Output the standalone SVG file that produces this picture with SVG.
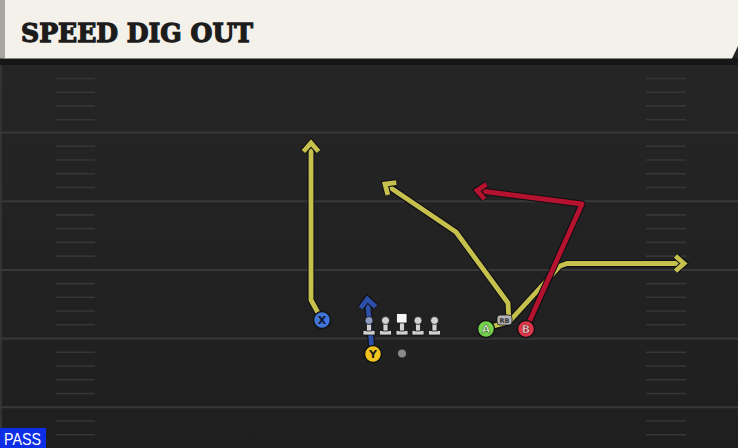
<svg xmlns="http://www.w3.org/2000/svg" width="738" height="448" viewBox="0 0 738 448">
<style>
.yl{stroke:#383838;stroke-width:2}
.hm{stroke:#363636;stroke-width:1.6}
.o{fill:none;stroke:#0f0f14;stroke-width:7;stroke-linejoin:round}
.r{fill:none;stroke-width:4.8;stroke-linejoin:round}
.ry{stroke:#c6c04c}.rr{stroke:#b5122f}.rb{stroke:#2c50aa}
.pc{stroke:#111;stroke-width:1.5}
.lt{font-family:"DejaVu Sans","Liberation Sans",sans-serif;font-weight:bold;font-size:11px;text-anchor:middle}
.ol{fill:#d2d2d2;stroke:#151515;stroke-width:0.8}
</style>
<defs>
<marker id="ay" markerUnits="userSpaceOnUse" markerWidth="26" markerHeight="26" viewBox="-13 -13 26 26" refX="0" refY="0" orient="auto" overflow="visible">
<path d="M-8.5,-7.5 L0,0 L-8.5,7.5" fill="none" stroke="#0f0f14" stroke-width="7" stroke-linejoin="miter"/>
<path d="M-8.5,-7.5 L0,0 L-8.5,7.5" fill="none" stroke="#c6c04c" stroke-width="4.8" stroke-linejoin="miter"/>
</marker>
<marker id="ar" markerUnits="userSpaceOnUse" markerWidth="26" markerHeight="26" viewBox="-13 -13 26 26" refX="0" refY="0" orient="auto" overflow="visible">
<path d="M-8.5,-7.5 L0,0 L-8.5,7.5" fill="none" stroke="#0f0f14" stroke-width="7" stroke-linejoin="miter"/>
<path d="M-8.5,-7.5 L0,0 L-8.5,7.5" fill="none" stroke="#b5122f" stroke-width="4.8" stroke-linejoin="miter"/>
</marker>
<marker id="ab" markerUnits="userSpaceOnUse" markerWidth="26" markerHeight="26" viewBox="-13 -13 26 26" refX="0" refY="0" orient="auto" overflow="visible">
<path d="M-8.5,-7.5 L0,0 L-8.5,7.5" fill="none" stroke="#0f0f14" stroke-width="7" stroke-linejoin="miter"/>
<path d="M-8.5,-7.5 L0,0 L-8.5,7.5" fill="none" stroke="#2c50aa" stroke-width="4.8" stroke-linejoin="miter"/>
</marker>
<linearGradient id="fg" x1="0" y1="0" x2="0" y2="1">
<stop offset="0" stop-color="#262626"/><stop offset="1" stop-color="#1f1f1f"/>
</linearGradient>
</defs>

<!-- field -->
<rect x="0" y="0" width="738" height="448" fill="url(#fg)"/>
<rect x="0" y="64" width="2" height="384" fill="#333"/>
<g id="yardlines">
<line class="yl" x1="0" y1="132.5" x2="738" y2="132.5"/>
<line class="yl" x1="0" y1="201.2" x2="738" y2="201.2"/>
<line class="yl" x1="0" y1="269.9" x2="738" y2="269.9"/>
<line class="yl" x1="0" y1="338.5" x2="738" y2="338.5"/>
<line class="yl" x1="0" y1="407.2" x2="738" y2="407.2"/>
</g>
<g id="hashes">
<path class="hm" d="M56,78.5H95M56,92.2H95M56,105.9H95M56,119.7H95
M56,146.2H95M56,160H95M56,173.7H95M56,187.5H95
M56,214.9H95M56,228.6H95M56,242.4H95M56,256.1H95
M56,283.6H95M56,297.3H95M56,311H95M56,324.8H95
M56,352.2H95M56,366H95M56,379.7H95M56,393.5H95
M56,421H95M56,434.7H95
M646,78.5H686M646,92.2H686M646,105.9H686M646,119.7H686
M646,146.2H686M646,160H686M646,173.7H686M646,187.5H686
M646,214.9H686M646,228.6H686M646,242.4H686M646,256.1H686
M646,283.6H686M646,297.3H686M646,311H686M646,324.8H686
M646,352.2H686M646,366H686M646,379.7H686M646,393.5H686
M646,421H686M646,434.7H686"/>
</g>

<!-- header -->
<g id="header">
<rect x="0" y="58" width="738" height="7" fill="#171717"/>
<polygon points="4,0 738,0 738,46 732,58.5 4,58.5" fill="#f4f1ea"/>
<rect x="0" y="0" width="5" height="58.5" fill="#a9a6a0"/>
<text x="21" y="42" font-family="'DejaVu Serif','Liberation Serif',serif" font-weight="bold" font-size="26" fill="#1c1c1c" stroke="#1c1c1c" stroke-width="1.3" textLength="232" lengthAdjust="spacingAndGlyphs">SPEED DIG OUT</text>
</g>

<!-- connectors -->
<g id="connectors">
<path class="o" d="M322,320 L311,300 L311,143"/>
<path class="r ry" d="M322,320 L311,300 L311,143" marker-end="url(#ay)"/>
<path class="o" d="M486,328 L509,322 L508,303 L456,232 L385,184"/>
<path class="r ry" d="M486,328 L509,322 L508,303 L456,232 L385,184" marker-end="url(#ay)"/>
<path class="o" d="M509,322 L560,266 L567,263.5 L684,263.5"/>
<path class="r ry" d="M509,322 L560,266 L567,263.5 L684,263.5" marker-end="url(#ay)"/>
<path class="o" d="M526,329 L582,204 L477,190.5"/>
<path class="r rr" d="M526,329 L582,204 L477,190.5" marker-end="url(#ar)"/>
<path class="o" d="M372,350 L367.3,299"/>
<path class="r rb" d="M372,350 L367.3,299" marker-end="url(#ab)"/>
</g>

<!-- line -->
<g id="lt">
<rect class="ol" x="363" y="330.5" width="12" height="4.5"/>
<rect class="ol" x="366.5" y="321" width="5" height="10"/>
<circle cx="369" cy="320.5" r="4" fill="#8d9bc4" stroke="#151515" stroke-width="0.8"/>
</g>
<g id="lg">
<rect class="ol" x="379.5" y="330.5" width="12" height="4.5"/>
<rect class="ol" x="383" y="321" width="5" height="10"/>
<circle class="ol" cx="385.5" cy="320.5" r="4"/>
</g>
<g id="c">
<rect class="ol" x="396" y="330.5" width="12" height="4.5"/>
<rect class="ol" x="399.5" y="322" width="5" height="9"/>
<rect x="396.5" y="313.5" width="10.5" height="9.5" fill="#f6f6f6" stroke="#151515" stroke-width="0.8"/>
</g>
<g id="rg">
<rect class="ol" x="412" y="330.5" width="12" height="4.5"/>
<rect class="ol" x="415.5" y="321" width="5" height="10"/>
<circle class="ol" cx="418" cy="320.5" r="4"/>
</g>
<g id="rt">
<rect class="ol" x="428.5" y="330.5" width="12" height="4.5"/>
<rect class="ol" x="432" y="321" width="5" height="10"/>
<circle class="ol" cx="434.5" cy="320.5" r="4"/>
</g>
<g id="qb">
<circle cx="402" cy="353.5" r="4.5" fill="#8a8a8a" stroke="#151515" stroke-width="0.8"/>
</g>

<!-- skill players -->
<g id="X">
<circle class="pc" cx="322" cy="320" r="8.5" fill="#4274d9"/>
<text class="lt" x="322" y="324" fill="#101830">X</text>
</g>
<g id="Y">
<circle class="pc" cx="373" cy="354" r="8.5" fill="#f2c420"/>
<text class="lt" x="373" y="358" fill="#1a1a1a">Y</text>
</g>
<g id="A">
<circle class="pc" cx="486" cy="329" r="8.5" fill="#74d24d"/>
<text class="lt" x="486" y="333" fill="#e6f7da" stroke="#2a4a1a" stroke-width="0.5">A</text>
</g>
<g id="B">
<circle class="pc" cx="526" cy="329" r="8.5" fill="#e0364a"/>
<text class="lt" x="526" y="333" fill="#f7d5d8" stroke="#5a1018" stroke-width="0.5">B</text>
</g>
<g id="RB">
<rect x="497" y="315" width="15" height="10" rx="3" fill="#b4b4b4" stroke="#151515" stroke-width="0.8"/>
<text x="504.5" y="322.7" font-family="'DejaVu Sans','Liberation Sans',sans-serif" font-weight="bold" font-size="6.5" fill="#333" text-anchor="middle">RB</text>
</g>

<!-- pass tag -->
<g id="pass">
<rect x="0" y="428" width="46" height="20" fill="#0c2ee6"/>
<text x="4" y="445" font-family="'Liberation Sans',Arial,sans-serif" font-size="17" fill="#ffffff" textLength="37" lengthAdjust="spacingAndGlyphs">PASS</text>
</g>
</svg>
